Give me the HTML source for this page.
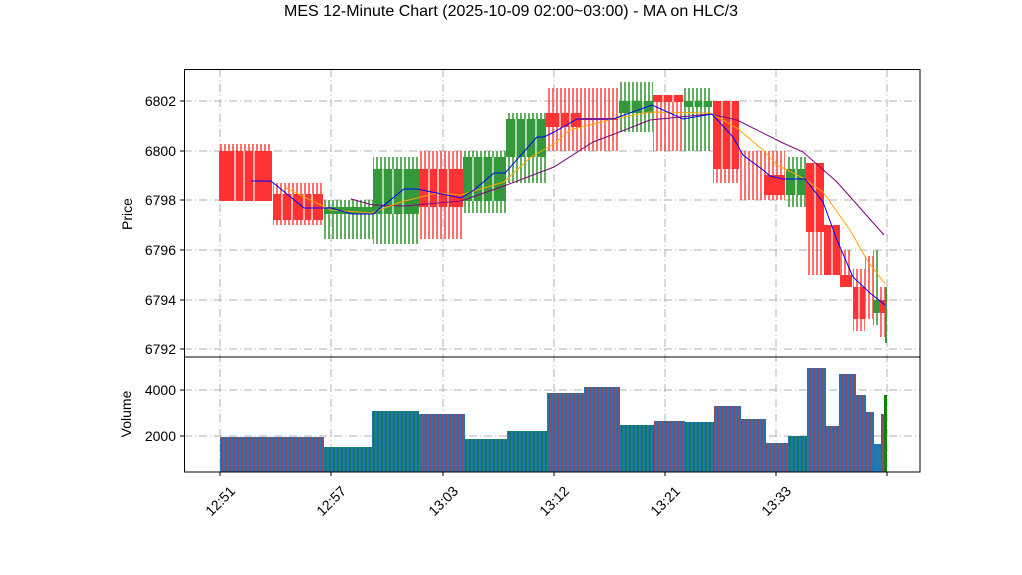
<!DOCTYPE html>
<html><head><meta charset="utf-8"><style>
html,body{margin:0;padding:0;background:#fff;}
svg{display:block;font-family:"Liberation Sans","DejaVu Sans",sans-serif;}
</style></head><body>
<svg width="1022" height="575" viewBox="0 0 1022 575" xmlns="http://www.w3.org/2000/svg">
<defs>
<pattern id="wr" width="4" height="10" patternUnits="userSpaceOnUse"><rect x="0" y="0" width="2" height="10" fill="#ff4040" opacity="0.75"/></pattern>
<pattern id="wg" width="4" height="10" patternUnits="userSpaceOnUse"><rect x="0" y="0" width="2" height="10" fill="#3a9a3a" opacity="0.8"/></pattern>
<pattern id="vr" width="4" height="10" patternUnits="userSpaceOnUse"><rect width="4" height="10" fill="#1f77b4"/><rect x="1" width="1.5" height="10" fill="#ff1a1a"/></pattern>
<pattern id="vg" width="4" height="10" patternUnits="userSpaceOnUse"><rect width="4" height="10" fill="#1f77b4"/><rect x="1" width="1.5" height="10" fill="#108010"/></pattern>
</defs>
<rect width="1022" height="575" fill="#fff"/>
<text x="511" y="16" font-size="16" text-anchor="middle">MES 12-Minute Chart (2025-10-09 02:00~03:00) - MA on HLC/3</text>

<g stroke="#b0b0b0" stroke-width="1" stroke-dasharray="8,3,1,3" fill="none">
<path d="M220 69V472M331 69V472M443 69V472M554 69V472M665 69V472M776 69V472M887 69V472"/>
<path d="M184 101H920M184 151H920M184 200H920M184 250H920M184 300H920M184 349H920"/>
<path d="M184 390H920M184 436H920"/>
</g>

<g>
<rect x="219" y="144" width="53" height="57" fill="url(#wr)"/>
<rect x="273" y="183" width="50" height="42" fill="url(#wr)"/>
<rect x="324" y="200" width="49" height="39" fill="url(#wg)"/>
<rect x="373" y="157" width="46" height="87" fill="url(#wg)"/>
<rect x="419" y="151" width="44" height="88" fill="url(#wr)"/>
<rect x="463" y="151" width="43" height="62" fill="url(#wg)"/>
<rect x="506" y="113" width="40" height="70" fill="url(#wg)"/>
<rect x="546" y="88" width="72" height="63" fill="url(#wr)"/>
<rect x="619" y="82" width="34" height="50" fill="url(#wg)"/>
<rect x="653" y="95" width="30" height="56" fill="url(#wr)"/>
<rect x="684" y="88" width="28" height="63" fill="url(#wg)"/>
<rect x="713" y="101" width="26" height="82" fill="url(#wr)"/>
<rect x="740" y="151" width="45" height="49" fill="url(#wr)"/>
<rect x="786" y="157" width="20" height="50" fill="url(#wg)"/>
<rect x="806" y="163" width="18" height="112" fill="url(#wr)"/>
<rect x="824" y="225" width="16" height="50" fill="url(#wr)"/>
<rect x="840" y="250" width="12" height="37" fill="url(#wr)"/>
<rect x="853" y="269" width="12" height="62" fill="url(#wr)"/>
<rect x="865" y="256" width="8" height="63" fill="url(#wr)"/>
<rect x="873" y="250" width="7" height="75" fill="url(#wg)"/>
<rect x="880" y="287" width="5" height="50" fill="url(#wr)"/>
<rect x="885" y="287" width="2" height="56" fill="#3a9a3a"/>
</g>
<g>
<rect x="219" y="151" width="53" height="50" fill="#ff3333"/>
<rect x="273" y="194" width="50" height="26" fill="#ff3333"/>
<rect x="324" y="207" width="49" height="7" fill="#33993a"/>
<rect x="373" y="169" width="46" height="45" fill="#33993a"/>
<rect x="419" y="169" width="44" height="38" fill="#ff3333"/>
<rect x="463" y="157" width="43" height="44" fill="#33993a"/>
<rect x="506" y="119" width="40" height="38" fill="#33993a"/>
<rect x="546" y="113" width="35" height="14" fill="#ff3333"/>
<rect x="581" y="118" width="37" height="2" fill="#ff3333"/>
<rect x="619" y="101" width="34" height="12" fill="#33993a"/>
<rect x="653" y="95" width="30" height="7" fill="#ff3333"/>
<rect x="684" y="101" width="28" height="6" fill="#33993a"/>
<rect x="713" y="101" width="26" height="68" fill="#ff3333"/>
<rect x="764" y="175" width="21" height="20" fill="#ff3333"/>
<rect x="786" y="169" width="20" height="26" fill="#33993a"/>
<rect x="806" y="163" width="18" height="69" fill="#ff3333"/>
<rect x="824" y="225" width="16" height="50" fill="#ff3333"/>
<rect x="840" y="275" width="12" height="12" fill="#ff3333"/>
<rect x="853" y="287" width="12" height="32" fill="#ff3333"/>
<rect x="873" y="300" width="7" height="13" fill="#33993a"/>
<rect x="880" y="300" width="5" height="13" fill="#ff3333"/>
</g>
<g stroke="#fff" stroke-width="1.2">
<path d="M235 151V201M244 151V201M254 151V201M282 194V220M292 194V220M304 194V220M312 194V220M383 169V214M393 169V214M403 169V214M429 169V207M438 169V207M448 169V207M473 157V201M483 157V201M493 157V201M516 119V157M526 119V157M536 119V157M560 113V127M570 113V127M631 101V113M643 101V113M663 95V102M673 95V102M694 101V107M703 101V107M722 101V169M731 101V169M796 169V195M815 163V232M832 225V275M859 287V319"/>
</g>

<polyline fill="none" stroke="#800080" stroke-width="1" points="351,199 373,205 404,206 461,201 504,186 554,167 593,142 617,133 650,120 710,114 737,120 783,143 803,152 837,182 884,235"/>
<polyline fill="none" stroke="#ffa500" stroke-width="1" points="284,187 331,210 371,213 401,202 437,193 461,195 504,182 531,157 554,144 570,130 613,119 650,112 710,113 737,128 763,150 777,165 803,178 823,192 850,230 867,260 885,284"/>
<polyline fill="none" stroke="#0000ff" stroke-width="1" points="251,181 271,181 304,208 331,208 352,214 373,214 404,189 417,189 437,193 461,198 474,190 494,173 505,173 537,137 544,137 554,132 577,119 613,119 652,105 683,119 712,114 733,137 743,155 763,170 770,176 783,179 805,179 823,202 837,240 853,277 870,293 885,305"/>

<g>
<rect x="220" y="437" width="104" height="35" fill="url(#vr)"/>
<rect x="324" y="447" width="48" height="25" fill="url(#vg)"/>
<rect x="372" y="411" width="47" height="61" fill="url(#vg)"/>
<rect x="419" y="414" width="46" height="58" fill="url(#vr)"/>
<rect x="465" y="439" width="42" height="33" fill="url(#vg)"/>
<rect x="507" y="431" width="40" height="41" fill="url(#vg)"/>
<rect x="547" y="393" width="37" height="79" fill="url(#vr)"/>
<rect x="584" y="387" width="36" height="85" fill="url(#vr)"/>
<rect x="620" y="425" width="34" height="47" fill="url(#vg)"/>
<rect x="654" y="421" width="31" height="51" fill="url(#vr)"/>
<rect x="685" y="422" width="29" height="50" fill="url(#vg)"/>
<rect x="714" y="406" width="27" height="66" fill="url(#vr)"/>
<rect x="741" y="419" width="25" height="53" fill="url(#vr)"/>
<rect x="766" y="443" width="22" height="29" fill="url(#vr)"/>
<rect x="788" y="436" width="19" height="36" fill="url(#vg)"/>
<rect x="807" y="368" width="19" height="104" fill="url(#vr)"/>
<rect x="826" y="426" width="13" height="46" fill="url(#vr)"/>
<rect x="839" y="374" width="17" height="98" fill="url(#vr)"/>
<rect x="856" y="395" width="10" height="77" fill="url(#vr)"/>
<rect x="866" y="412" width="8" height="60" fill="url(#vr)"/>
<rect x="874" y="444" width="7" height="28" fill="#1f77b4"/>
<rect x="881" y="414" width="3" height="58" fill="url(#vr)"/>
<rect x="884" y="395" width="3" height="77" fill="#108010"/>
</g>

<rect x="184.5" y="69.5" width="735.5" height="287.5" fill="none" stroke="#000" stroke-width="1"/>
<rect x="184.5" y="357" width="735.5" height="115" fill="none" stroke="#000" stroke-width="1"/>

<g stroke="#000" stroke-width="1">
<path d="M180 101H184M180 151H184M180 200H184M180 250H184M180 300H184M180 349H184M180 390H184M180 436H184"/>
<path d="M220 472V476M331 472V476M443 472V476M554 472V476M665 472V476M776 472V476M887 472V476"/>
</g>
<g font-size="14" text-anchor="end">
<text x="176" y="106">6802</text>
<text x="176" y="156">6800</text>
<text x="176" y="205">6798</text>
<text x="176" y="255">6796</text>
<text x="176" y="305">6794</text>
<text x="176" y="354">6792</text>
<text x="176" y="395">4000</text>
<text x="176" y="441">2000</text>
</g>
<text transform="translate(132,214) rotate(-90)" font-size="14" text-anchor="middle">Price</text>
<text transform="translate(131,414) rotate(-90)" font-size="14" text-anchor="middle">Volume</text>
<g font-size="14" text-anchor="end">
<text transform="translate(236,492) rotate(-45)">12:51</text>
<text transform="translate(347,492) rotate(-45)">12:57</text>
<text transform="translate(459,492) rotate(-45)">13:03</text>
<text transform="translate(570,492) rotate(-45)">13:12</text>
<text transform="translate(681,492) rotate(-45)">13:21</text>
<text transform="translate(792,492) rotate(-45)">13:33</text>
</g>
</svg>
</body></html>
